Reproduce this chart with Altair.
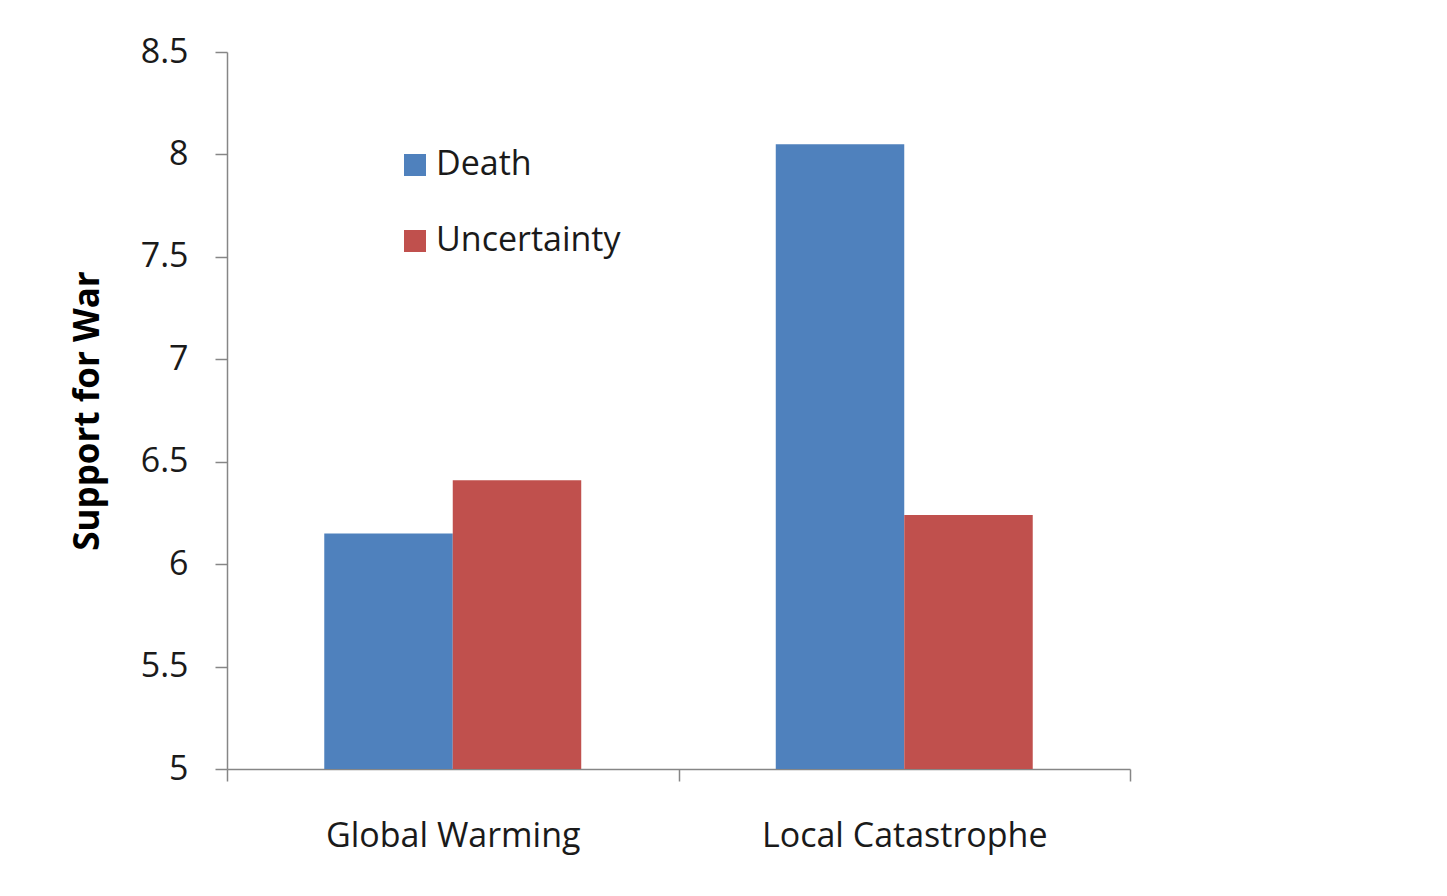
import altair as alt
import pandas as pd

categories = ["Global Warming", "Global Warming", "Local Catastrophe", "Local Catastrophe"]
series = ["Death", "Uncertainty", "Death", "Uncertainty"]
values = [6.15, 6.41, 8.05, 6.24]

y_ticks = [5, 5.5, 6, 6.5, 7, 7.5, 8, 8.5]
series_order = ["Death", "Uncertainty"]
colors = ["#4F81BD", "#C0504D"]

df = pd.DataFrame({"category": categories, "series": series, "value": values})

FONT = "Open Sans"
AXIS_COLOR = "#868686"

chart = alt.Chart(df).mark_bar(clip=True).encode(
    x=alt.X("category:N", title=None, sort=["Global Warming", "Local Catastrophe"],
            scale=alt.Scale(paddingInner=0, paddingOuter=0),
            axis=alt.Axis(labelAngle=0, labelFontSize=34, labelFont=FONT, labelColor="#1a1a1a",
                          labelLimit=0,
                          labelPadding=38, tickSize=12, tickBand="extent", tickColor=AXIS_COLOR,
                          domainColor=AXIS_COLOR, domainWidth=1.5, tickWidth=1.5)),
    xOffset=alt.XOffset("series:N", sort=series_order,
                        scale=alt.Scale(paddingOuter=0.757, paddingInner=0)),
    y=alt.Y("value:Q", title="Support for War",
            scale=alt.Scale(domain=[5, 8.5], nice=False, zero=False),
            axis=alt.Axis(values=y_ticks, labelExpr="datum.value + ''", grid=False,
                          labelFontSize=34, labelFont=FONT, labelColor="#1a1a1a",
                          labelPadding=27, tickSize=12, tickColor=AXIS_COLOR, tickWidth=1.5,
                          domainColor=AXIS_COLOR, domainWidth=1.5,
                          titleFont=FONT, titleFontSize=35, titleFontWeight="bold",
                          titleColor="#000000", titleAngle=-90, titleBaseline="middle",
                          titleX=-140, titleY=358.5, titleAlign="center")),
    color=alt.Color("series:N", sort=series_order,
                    scale=alt.Scale(domain=series_order, range=colors),
                    legend=alt.Legend(title=None, orient="none", legendX=171, legendY=96,
                                      symbolType="square", symbolSize=484, symbolStrokeWidth=0,
                                      labelFont=FONT, labelFontSize=34, labelColor="#1a1a1a",
                                      labelLimit=0, labelOffset=4, rowPadding=42)),
).properties(
    width=903, height=717,
    autosize=alt.AutoSizeParams(type="none"),
    padding={"left": 219, "top": 44, "right": 300, "bottom": 110},
).configure(background="white").configure_view(stroke=None)

chart.save("out.html", embed_options={"renderer": "svg", "actions": False})
